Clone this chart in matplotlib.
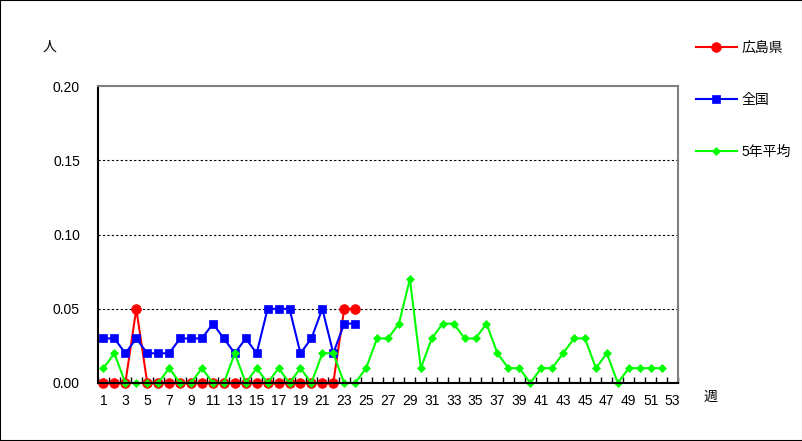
import matplotlib.pyplot as plt
import numpy as np
from matplotlib.patches import Rectangle

plt.rcParams['font.family'] = ['Liberation Sans', 'Noto Sans CJK JP']

weeks = np.arange(1, 54)
hiroshima = [0, 0, 0, 0.05, 0, 0, 0, 0, 0, 0, 0, 0, 0, 0, 0, 0, 0, 0, 0, 0, 0, 0,
             0.05, 0.05]
national = [0.03, 0.03, 0.02, 0.03, 0.02, 0.02, 0.02, 0.03, 0.03, 0.03, 0.04, 0.03,
            0.02, 0.03, 0.02, 0.05, 0.05, 0.05, 0.02, 0.03, 0.05, 0.02, 0.04, 0.04]
avg5 = [0.01, 0.02, 0, 0, 0, 0, 0.01, 0, 0, 0.01, 0, 0, 0.02, 0, 0.01, 0, 0.01, 0,
        0.01, 0, 0.02, 0.02, 0, 0, 0.01, 0.03, 0.03, 0.04, 0.07, 0.01, 0.03, 0.04,
        0.04, 0.03, 0.03, 0.04, 0.02, 0.01, 0.01, 0, 0.01, 0.01, 0.02, 0.03, 0.03,
        0.01, 0.02, 0, 0.01, 0.01, 0.01, 0.01]
labels = ['広島県', '全国', '5年平均']
yticks = [0.00, 0.05, 0.10, 0.15, 0.20]

fig = plt.figure(figsize=(8.03, 4.41), dpi=100)
ax = fig.add_axes([98 / 803, 1 - 383 / 441, 580 / 803, 297 / 441])

ax.plot(weeks[:len(hiroshima)], hiroshima, color='#FF0000', marker='o', ms=7,
        mew=0.5, lw=1.5, label=labels[0], clip_on=False)
ax.plot(weeks[:len(national)], national, color='#0000FF', marker='s', ms=6,
        mew=0.5, lw=1.5, label=labels[1], clip_on=False)
ax.plot(weeks[:len(avg5)], avg5, color='#00FF00', marker='D', ms=4.5,
        mew=0.5, lw=1.5, label=labels[2], clip_on=False)

ax.set_xlim(0.5, 53.5)
ax.set_ylim(0, 0.2)
ax.set_yticks(yticks)
ax.set_yticklabels(['%.2f' % v for v in yticks])
ax.set_xticks(weeks[::2])
ax.set_xticks(np.arange(0.5, 54, 1), minor=True)
ax.tick_params(axis='x', which='major', length=0, pad=8, labelsize=10)
ax.tick_params(axis='x', which='minor', direction='in', length=4, width=1)
ax.tick_params(axis='y', length=0, pad=13, labelsize=10)

for v in yticks[1:-1]:
    ax.axhline(v, color='black', lw=0.8, ls=(0, (2, 2)), zorder=0)

for side in ('top', 'right'):
    ax.spines[side].set_color('#808080')
    ax.spines[side].set_linewidth(1.5)
for side in ('left', 'bottom'):
    ax.spines[side].set_color('black')
    ax.spines[side].set_linewidth(1.5)

fig.text(50 / 803, 1 - 47 / 441, '人', fontsize=10, ha='center', va='center',
         family='Noto Sans CJK JP')
fig.text(710 / 803, 1 - 397 / 441, '週', fontsize=10, ha='center', va='center',
         family='Noto Sans CJK JP')

fig.legend(loc='upper left', bbox_to_anchor=(690 / 803, 1 - 35 / 441), frameon=False,
           fontsize=10, labelspacing=2.75, handlelength=3.0, handletextpad=0.3,
           borderaxespad=0)

fig.patches.append(Rectangle((0, 0), 1, 1, transform=fig.transFigure, fill=False,
                             edgecolor='black', lw=1.5))

fig.savefig('out.png', dpi=100)
